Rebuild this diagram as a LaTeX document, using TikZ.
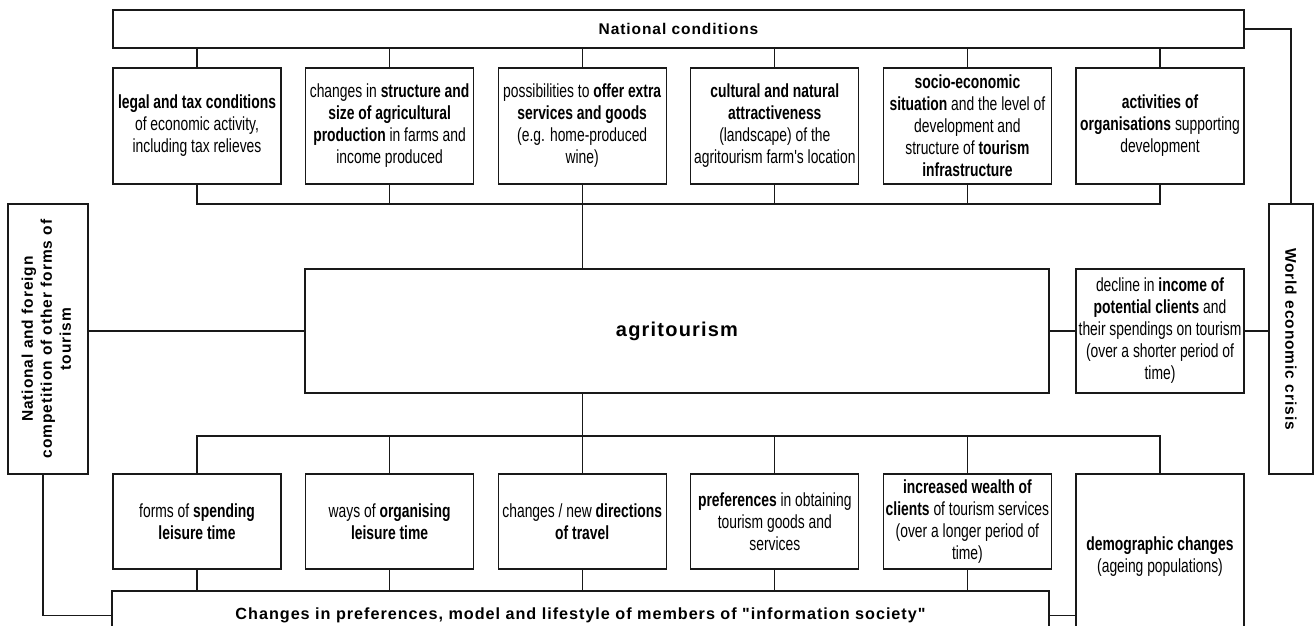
\documentclass[tikz,border=0pt]{standalone}
\usepackage{fontspec}
\setmainfont{Liberation Sans}
\newfontfamily\nar[FakeStretch=0.73]{Liberation Sans}
\newfontfamily\ttl[LetterSpace=6]{Liberation Sans}
\begin{document}
\begin{tikzpicture}[x=1pt,y=-1pt,
  box/.style={draw=black!90, line width=1.2pt, inner sep=1pt, align=center,
    font=\nar\fontsize{19}{22}\selectfont},
  tbox/.style={box, minimum width=168pt, minimum height=116pt},
  bbox/.style={box, minimum width=168pt, minimum height=95pt},
  conn/.style={draw=black!90, line width=1.2pt},
  title/.style={font=\ttl\bfseries\fontsize{15.5}{19}\selectfont}]
\useasboundingbox (0,0) rectangle (1316,625);
\clip (0,0) rectangle (1316,625);
\fill[white] (0,0) rectangle (1316,625);

% top
\node[box, title, minimum width=1131pt, minimum height=38pt] (top) at (678.5,29) {National conditions};

\node[tbox] (t1) at (197,126) {\textbf{legal and tax conditions}\\of economic activity,\\including tax relieves};
\node[tbox] (t2) at (389.6,126) {changes in \textbf{structure and}\\\textbf{size of agricultural}\\\textbf{production} in farms and\\income produced};
\node[tbox] (t3) at (582.2,126) {possibilities to \textbf{offer extra}\\\textbf{services and goods}\\(e.g. home-produced\\wine)};
\node[tbox] (t4) at (774.8,126) {\textbf{cultural and natural}\\\textbf{attractiveness}\\(landscape) of the\\agritourism farm's location};
\node[tbox] (t5) at (967.4,126) {\textbf{socio-economic}\\\textbf{situation} and the level of\\development and\\structure of \textbf{tourism}\\\textbf{infrastructure}};
\node[tbox] (t6) at (1160,126) {\textbf{activities of}\\\textbf{organisations} supporting\\development};

% middle
\node[box, minimum width=744pt, minimum height=124pt, font=\ttl\bfseries\fontsize{20}{24}\selectfont] (agri) at (677,331) {agritourism};
\node[box, minimum width=168pt, minimum height=124pt] (dec) at (1160,331) {decline in \textbf{income of}\\\textbf{potential clients} and\\their spendings on tourism\\(over a shorter period of\\time)};

\node[box, minimum width=80pt, minimum height=270pt, title] (left) at (48,339)
  {\rotatebox{90}{\begin{tabular}{@{}c@{}}National and foreign\\competition of other forms of\\tourism\end{tabular}}};
\node[box, minimum width=44pt, minimum height=270pt, title] (wec) at (1291,339)
  {\rotatebox{-90}{World economic crisis}};

% bottom row
\node[bbox] (b1) at (197,521.5) {forms of \textbf{spending}\\\textbf{leisure time}};
\node[bbox] (b2) at (389.6,521.5) {ways of \textbf{organising}\\\textbf{leisure time}};
\node[bbox] (b3) at (582.2,521.5) {changes / new \textbf{directions}\\\textbf{of travel}};
\node[bbox] (b4) at (774.8,521.5) {\textbf{preferences} in obtaining\\tourism goods and\\services};
\node[bbox] (b5) at (967.4,521.5) {\textbf{increased wealth of}\\\textbf{clients} of tourism services\\(over a longer period of\\time)};
\node[box, minimum width=168pt, minimum height=166pt] (b6) at (1160,557) {\textbf{demographic changes}\\(ageing populations)};

\node[box, title, font=\ttl\bfseries\fontsize{16.2}{19}\selectfont, minimum width=937pt, minimum height=49pt] (bot) at (580.5,615.5)
  {Changes in preferences, model and lifestyle of members of "information society"};

% connectors top
\coordinate (busT) at (0,204);
\coordinate (busB) at (0,436);
\foreach \n in {t1,t2,t3,t4,t5,t6} \draw[conn] (top.south -| \n.north) -- (\n.north);
\draw[conn] (t1.south) -- (t1.south |- busT) -- (t6.south |- busT) -- (t6.south);
\foreach \n in {t2,t3,t4,t5} \draw[conn] (\n.south) -- (\n.south |- busT);
\draw[conn] (t3.south |- busT) -- (t3.south |- agri.north);

% connectors bottom
\draw[conn] (b1.north) -- (b1.north |- busB) -- (b6.north |- busB) -- (b6.north);
\foreach \n in {b2,b3,b4,b5} \draw[conn] (\n.north) -- (\n.north |- busB);
\draw[conn] (b3.north |- agri.south) -- (b3.north |- busB);
\foreach \n in {b1,b2,b3,b4,b5} \draw[conn] (\n.south) -- (\n.south |- bot.north);

% side connectors
\draw[conn] (left.east |- agri.west) -- (agri.west);
\draw[conn] (agri.east) -- (dec.west);
\draw[conn] (dec.east) -- (dec.east -| wec.west);
\draw[conn] (top.east) -| (wec.north);
\draw[conn] ([xshift=-5pt]left.south) |- (bot.west);
\draw[conn] (bot.east) -- (bot.east -| b6.west);
\end{tikzpicture}
\end{document}
